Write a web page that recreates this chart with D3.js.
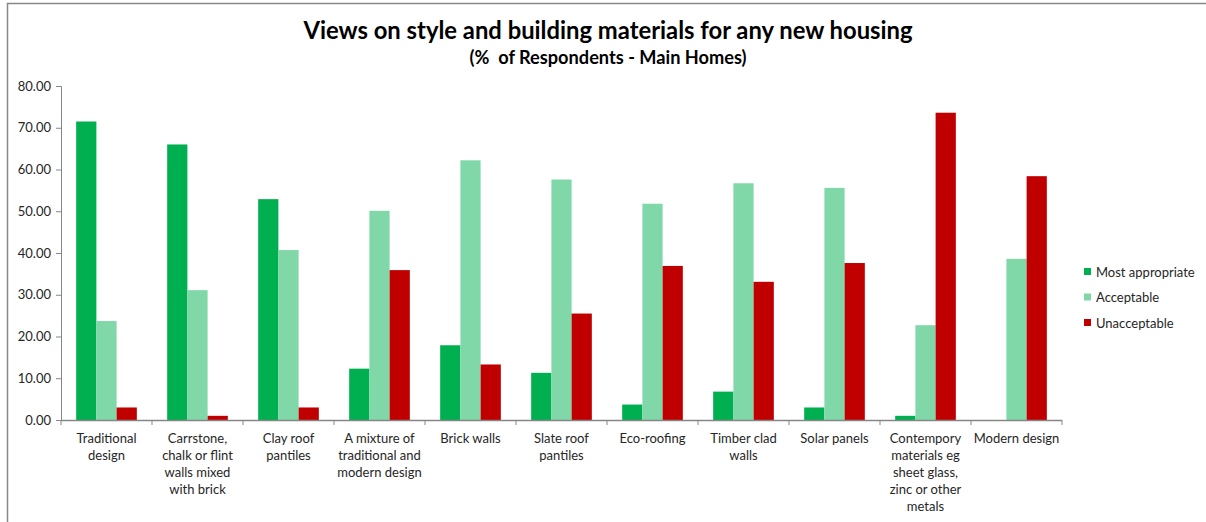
<!DOCTYPE html>
<html>
<head>
<meta charset="utf-8">
<script src="https://cdn.jsdelivr.net/npm/d3@7"></script>
<style>
  html, body { margin: 0; padding: 0; background: #fff; }
  svg { display: block; font-family: Lato, "Open Sans", sans-serif; }
</style>
</head>
<body>
<svg id="chart" width="1206" height="522"></svg>
<script>
const categories = [
  ["Traditional", "design"],
  ["Carrstone,", "chalk or flint", "walls mixed", "with brick"],
  ["Clay roof", "pantiles"],
  ["A mixture of", "traditional and", "modern design"],
  ["Brick walls"],
  ["Slate roof", "pantiles"],
  ["Eco-roofing"],
  ["Timber clad", "walls"],
  ["Solar panels"],
  ["Contempory", "materials eg", "sheet glass,", "zinc or other", "metals"],
  ["Modern design"]
];
const seriesNames = ["Most appropriate", "Acceptable", "Unacceptable"];
const mostAppropriate = [71.5, 66.0, 52.9, 12.3, 17.9, 11.3, 3.7, 6.8, 3.0, 1.0, 0.0];
const acceptable      = [23.7, 31.1, 40.7, 50.1, 62.2, 57.6, 51.8, 56.7, 55.6, 22.7, 38.6];
const unacceptable    = [3.0, 1.0, 3.0, 35.9, 13.3, 25.5, 36.9, 33.1, 37.6, 73.6, 58.4];
const yTicks = [0, 10, 20, 30, 40, 50, 60, 70, 80];
const colors = ["#00B050", "#80D8A8", "#C00000"];

const series = [mostAppropriate, acceptable, unacceptable];
const svg = d3.select("#chart");

// frame
svg.append("path").attr("d", "M7.5,530 V3.5 H1210")
  .attr("fill", "none").attr("stroke", "#888").attr("stroke-width", 1.5);

const x0 = 61, x1 = 1062, yTop = 86, yBot = 420;
const x = d3.scaleBand().domain(d3.range(categories.length)).range([x0, x1]).padding(0);
const y = d3.scaleLinear().domain([0, 80]).range([yBot, yTop]);
const bw = x.bandwidth() / 4.5;
const xs = d3.scaleBand().domain(d3.range(3)).range([0.75 * bw, 3.75 * bw]).padding(0);

// titles
svg.append("text").attr("x", 608).attr("y", 39).attr("text-anchor", "middle")
  .attr("font-size", 23.8).attr("font-weight", "bold").attr("fill", "#000")
  .text("Views on style and building materials for any new housing");
svg.append("text").attr("x", 608).attr("y", 63.5).attr("text-anchor", "middle")
  .attr("font-size", 18.2).attr("font-weight", "bold").attr("fill", "#000")
  .style("white-space", "pre")
  .text("(%  of Respondents - Main Homes)");

// bars
const g = svg.append("g");
series.forEach((vals, si) => {
  g.selectAll(null).data(vals).enter().append("rect")
    .attr("x", (d, i) => x(i) + xs(si))
    .attr("y", d => y(d))
    .attr("width", xs.bandwidth())
    .attr("height", d => yBot - y(d))
    .attr("fill", colors[si]);
});

// y axis
const yAxis = d3.axisLeft(y).tickValues(yTicks).tickFormat(d3.format(".2f")).tickSize(5).tickPadding(5);
const ya = svg.append("g").attr("transform", `translate(${x0},0)`).call(yAxis);
ya.select(".domain").attr("stroke", "#868686");
ya.selectAll(".tick line").attr("stroke", "#868686");
ya.selectAll(".tick text").attr("font-size", 13).attr("fill", "#262626").attr("font-family", "Lato, sans-serif");

// x axis line
svg.append("line").attr("x1", x0).attr("x2", x1).attr("y1", yBot + 0.5).attr("y2", yBot + 0.5)
  .attr("stroke", "#868686").attr("stroke-width", 1.5);
const bounds = d3.range(categories.length + 1).map(i => i < categories.length ? x(i) : x1);
svg.selectAll(null).data(bounds).enter().append("line")
  .attr("x1", d => d).attr("x2", d => d).attr("y1", yBot).attr("y2", yBot + 5)
  .attr("stroke", "#868686");

// x labels
const xl = svg.append("g");
categories.forEach((lines, i) => {
  const t = xl.append("text").attr("text-anchor", "middle")
    .attr("font-size", 13).attr("fill", "#262626");
  lines.forEach((ln, k) => {
    t.append("tspan").attr("x", x(i) + x.bandwidth() / 2).attr("y", 443 + k * 17).text(ln);
  });
});

// legend
const lg = svg.append("g");
seriesNames.forEach((n, i) => {
  const cy = 272 + i * 25.5;
  lg.append("rect").attr("x", 1084).attr("y", cy - 4).attr("width", 7).attr("height", 7).attr("fill", colors[i]);
  lg.append("text").attr("x", 1096).attr("y", cy + 4.5).attr("font-size", 13).attr("fill", "#262626").text(n);
});
</script>
</body>
</html>
